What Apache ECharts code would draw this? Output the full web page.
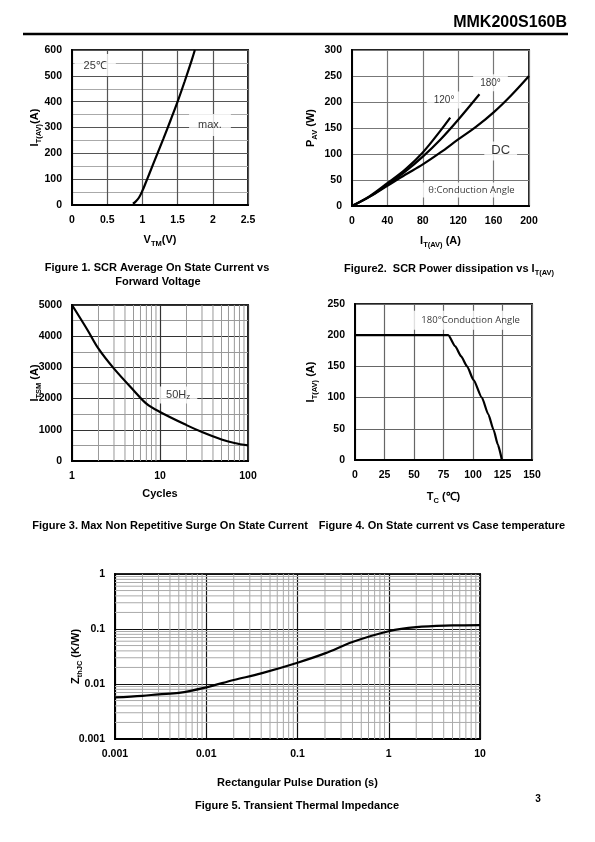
<!DOCTYPE html>
<html><head><meta charset="utf-8">
<script src="https://cdn.jsdelivr.net/npm/echarts@6/dist/echarts.min.js"></script>
<style>html,body{margin:0;padding:0;background:#fff}#c{width:595px;height:842px}</style>
</head><body><div id="c"></div>
<script>
const FONT = '"Liberation Sans", Arial, sans-serif';
const NOTEFONT = '"Open Sans", "Noto Sans", sans-serif';

// ---- Figure 1: I_T(AV) vs V_TM ----
const fig1X = [0.865, 0.9, 0.95, 1.0, 1.05, 1.1, 1.2, 1.3, 1.4, 1.5, 1.6, 1.7, 1.745];
const fig1Y = [5, 12, 28, 55, 88, 122, 190, 258, 328, 400, 478, 560, 600];
const fig1XTicks = ['0', '0.5', '1', '1.5', '2', '2.5'];
const fig1YTicks = ['0', '100', '200', '300', '400', '500', '600'];
const fig1Notes = [[0.33, 542, '25℃'], [1.96, 310, 'max.']];

// ---- Figure 2: P_AV vs I_T(AV) ----
const fig2X120 = [0, 20, 40, 60, 80, 100, 111];
const fig2Y120 = [0, 19, 44, 70, 103, 145, 170];
const fig2X180 = [0, 20, 40, 60, 80, 100, 120, 144];
const fig2Y180 = [0, 18, 41, 66, 95, 128, 166, 215];
const fig2XDC = [0, 20, 40, 60, 80, 100, 120, 140, 160, 180, 200];
const fig2YDC = [0, 18, 39, 60, 80, 103, 128, 152, 180, 213, 250];
const fig2XTicks = ['0', '40', '80', '120', '160', '200'];
const fig2YTicks = ['0', '50', '100', '150', '200', '250', '300'];
const fig2Notes = [[104, 204, '120°'], [156.5, 237, '180°'], [168, 106, 'DC']];
const fig2Box = [[135, 31, 'θ:Conduction Angle']];

// ---- Figure 3: I_TSM vs cycles ----
const fig3X = [1, 1.5, 2, 3, 5, 7, 10, 20, 30, 50, 70, 100];
const fig3Y = [5000, 4200, 3600, 2960, 2270, 1840, 1570, 1150, 930, 690, 578, 500];
const fig3XTicks = ['1', '10', '100'];
const fig3YTicks = ['0', '1000', '2000', '3000', '4000', '5000'];
const fig3Notes = [[16.1, 2115, '50H{s|z}']];

// ---- Figure 4: I_T(AV) vs Tc ----
const fig4X = [0, 25, 50, 79, 85, 90, 95, 100.5, 107.5, 113, 117.5, 121, 124.5];
const fig4Y = [200, 200, 200, 200, 182, 166, 150, 128, 100, 73, 48, 25, 0];
const fig4XTicks = ['0', '25', '50', '75', '100', '125', '150'];
const fig4YTicks = ['0', '50', '100', '150', '200', '250'];
const fig4Box = [[98, 224, '180°Conduction Angle']];

// ---- Figure 5: Zth vs pulse duration ----
const fig5X = [0.001, 0.002, 0.003, 0.005, 0.01, 0.02, 0.04, 0.1, 0.2, 0.4, 1, 2, 5, 10];
const fig5Y = [0.0057, 0.0061, 0.0065, 0.0069, 0.0087, 0.0118, 0.0156, 0.0244, 0.036, 0.058, 0.091, 0.108, 0.116, 0.118];
const fig5XTicks = ['0.001', '0.01', '0.1', '1', '10'];
const fig5YTicks = ['0.001', '0.01', '0.1', '1'];

const pairs = (xs, ys) => xs.map((x, i) => [x, ys[i]]);
const linFmt = (ticks, step, min) => v => { const i = Math.round((v - min) / step); return ticks[i] !== undefined ? ticks[i] : ''; };
const logFmt = (ticks, min) => v => { const i = Math.round(Math.log10(v / min)); return ticks[i] !== undefined ? ticks[i] : ''; };
function minorLogValues(minExp, maxExp) {
  const out = [];
  for (let e = minExp; e < maxExp; e++) for (let k = 2; k <= 9; k++) out.push(+(k * Math.pow(10, e)).toPrecision(3));
  return out;
}

const rich = {
  b: { fontSize: 11, fontWeight: 'bold', fontFamily: FONT, color: '#000' },
  s: { fontSize: 7.5, fontWeight: 'bold', fontFamily: FONT, color: '#000', verticalAlign: 'bottom' }
};
const nameStyle = { rich: rich, lineHeight: 16, fontSize: 11, fontWeight: 'bold', fontFamily: FONT, color: '#000' };
const axisLabel = (fmt) => ({ color: '#000', fontSize: 10.5, fontWeight: 'bold', fontFamily: FONT, margin: 10, formatter: fmt });
const axisLine = { show: true, onZero: false, lineStyle: { color: '#000', width: 2 } };
const split = (c, w) => ({ show: true, lineStyle: { color: c, width: w || 1 } });

const grids = [
  { left: 72, top: 50, width: 176, height: 155 },
  { left: 352, top: 50, width: 177, height: 156 },
  { left: 72, top: 305, width: 176, height: 156 },
  { left: 355, top: 304, width: 177, height: 156 },
  { left: 115, top: 574, width: 365, height: 165 }
].map(g => Object.assign({ show: true, borderColor: '#222', borderWidth: 2, containLabel: false }, g));

const common = { axisLine, axisTick: { show: false }, nameLocation: 'middle', nameMoveOverlap: false, nameTextStyle: nameStyle };
const xAxis = [
  Object.assign({ gridIndex: 0, type: 'value', min: 0, max: 2.5, interval: 0.5,
    axisLabel: axisLabel(linFmt(fig1XTicks, 0.5, 0)), splitLine: split('#555', 1.2),
    name: '{b|V}{s|TM}{b|(V)}', nameGap: 27 }, common),
  Object.assign({ gridIndex: 1, type: 'value', min: 0, max: 200, interval: 40,
    axisLabel: axisLabel(linFmt(fig2XTicks, 40, 0)), splitLine: split('#777', 1.2),
    name: '{b|I}{s|T(AV)}{b| (A)}', nameGap: 27 }, common),
  Object.assign({ gridIndex: 2, type: 'log', logBase: 10, min: 1, max: 100,
    axisLabel: axisLabel(logFmt(fig3XTicks, 1)), splitLine: split('#333', 1.2),
    name: '{b|Cycles}', nameGap: 25 }, common),
  Object.assign({ gridIndex: 3, type: 'value', min: 0, max: 150, interval: 25,
    axisLabel: axisLabel(linFmt(fig4XTicks, 25, 0)), splitLine: split('#666', 1.2),
    name: '{b|T}{s|C}{b| (℃)}', nameGap: 29 }, common),
  Object.assign({ gridIndex: 4, type: 'log', logBase: 10, min: 0.001, max: 10,
    axisLabel: axisLabel(logFmt(fig5XTicks, 0.001)), splitLine: split('#111', 1.2),
    name: '{b|Rectangular Pulse Duration (s)}', nameGap: 36 }, common)
];
const yAxis = [
  Object.assign({ gridIndex: 0, type: 'value', min: 0, max: 600, interval: 100,
    axisLabel: axisLabel(linFmt(fig1YTicks, 100, 0)), splitLine: split('#555', 1.2),
    minorTick: { show: false, splitNumber: 2 }, minorSplitLine: { show: true, lineStyle: { color: '#aaa', width: 1 } },
    name: '{b|I}{s|T(AV)}{b|(A)}', nameGap: 29.5, nameRotate: 90 }, common),
  Object.assign({ gridIndex: 1, type: 'value', min: 0, max: 300, interval: 50,
    axisLabel: axisLabel(linFmt(fig2YTicks, 50, 0)), splitLine: split('#777', 1.2),
    name: '{b|P}{s|AV}{b| (W)}', nameGap: 33, nameRotate: 90 }, common),
  Object.assign({ gridIndex: 2, type: 'value', min: 0, max: 5000, interval: 1000,
    axisLabel: axisLabel(linFmt(fig3YTicks, 1000, 0)), splitLine: split('#333', 1.2),
    minorTick: { show: false, splitNumber: 2 }, minorSplitLine: { show: true, lineStyle: { color: '#999', width: 1 } },
    name: '{b|I}{s|TSM}{b| (A)}', nameGap: 29, nameRotate: 90 }, common),
  Object.assign({ gridIndex: 3, type: 'value', min: 0, max: 250, interval: 50,
    axisLabel: axisLabel(linFmt(fig4YTicks, 50, 0)), splitLine: split('#666', 1.2),
    name: '{b|I}{s|T(AV)}{b| (A)}', nameGap: 36, nameRotate: 90 }, common),
  Object.assign({ gridIndex: 4, type: 'log', logBase: 10, min: 0.001, max: 1,
    axisLabel: axisLabel(logFmt(fig5YTicks, 0.001)), splitLine: split('#111', 1.2),
    name: '{b|Z}{s|thJC}{b| (K/W)}', nameGap: 31, nameRotate: 90 }, common)
];

const curve = (xi, data, extra) => Object.assign({
  type: 'line', xAxisIndex: xi, yAxisIndex: xi, data, smooth: 0.35, showSymbol: false, symbol: 'none',
  lineStyle: { color: '#000', width: 2.2 }, z: 5, silent: true, animation: false
}, extra || {});

const noteSeries = (xi, notes, lbl) => ({
  type: 'scatter', xAxisIndex: xi, yAxisIndex: xi, data: notes, symbolSize: 1,
  itemStyle: { color: 'rgba(0,0,0,0)' }, z: 4, silent: true, animation: false,
  label: Object.assign({ show: true, position: 'inside', formatter: p => p.data[2], color: '#000',
    backgroundColor: '#fff', fontFamily: FONT, fontSize: 11, rich: { s: { fontSize: 8, fontFamily: FONT, verticalAlign: 'bottom', color: '#000' } } }, lbl)
});

// minor grid lines for log axes, placed through the axes' own scales
const minorGrid = (xi, xs, ys, xRef, yRef, color) => ({
  type: 'custom', xAxisIndex: xi, yAxisIndex: xi, silent: true, z: 1, animation: false,
  data: xs.map(v => [v, yRef, 0]).concat(ys.map(v => [xRef, v, 1])),
  encode: { x: 0, y: 1 },
  renderItem: (params, api) => {
    const cs = params.coordSys;
    const p = api.coord([api.value(0), api.value(1)]);
    const vert = api.value(2) === 0;
    return { type: 'line', silent: true,
      shape: vert ? { x1: p[0], y1: cs.y, x2: p[0], y2: cs.y + cs.height } : { x1: cs.x, y1: p[1], x2: cs.x + cs.width, y2: p[1] },
      style: { stroke: color, lineWidth: 1 } };
  }
});

const series = [
  curve(0, pairs(fig1X, fig1Y)),
  noteSeries(0, fig1Notes, { padding: [6, 9, 5, 9] }),
  curve(1, pairs(fig2X120, fig2Y120)),
  curve(1, pairs(fig2X180, fig2Y180)),
  curve(1, pairs(fig2XDC, fig2YDC)),
  noteSeries(1, fig2Notes.slice(0, 2), { padding: [4, 7, 3, 7], fontSize: 10 }),
  noteSeries(1, fig2Notes.slice(2), { padding: [3, 7, 3, 7], fontSize: 13 }),
  noteSeries(1, fig2Box, { padding: [3, 9, 2, 9], fontSize: 9.5, fontFamily: NOTEFONT }),
  minorGrid(2, minorLogValues(0, 2), [], 10, 1000, '#999'),
  curve(2, pairs(fig3X, fig3Y)),
  noteSeries(2, fig3Notes, { padding: [3, 7, 3, 7], fontSize: 11 }),
  curve(3, pairs(fig4X, fig4Y), { smooth: 0.2, smoothMonotone: 'x' }),
  noteSeries(3, fig4Box, { padding: [5, 8, 4, 8], fontSize: 9.5, fontFamily: NOTEFONT }),
  minorGrid(4, minorLogValues(-3, 1), minorLogValues(-3, 0), 0.01, 0.01, '#aaa'),
  curve(4, pairs(fig5X, fig5Y))
];

const capRich = {
  b: { fontSize: 11, fontWeight: 'bold', fontFamily: FONT, color: '#000' },
  s: { fontSize: 7.5, fontWeight: 'bold', fontFamily: FONT, color: '#000', verticalAlign: 'bottom' }
};
const cap = (x, y, text) => ({ type: 'text', x, y, silent: true,
  style: { text, rich: capRich, align: 'center', verticalAlign: 'middle', lineHeight: 16 } });

const graphic = [
  { type: 'text', x: 567, y: 23, silent: true, style: { text: 'MMK200S160B', fill: '#000', font: 'bold 16px ' + FONT, align: 'right', verticalAlign: 'middle' } },
  { type: 'line', silent: true, shape: { x1: 23, y1: 34, x2: 568, y2: 34 }, style: { stroke: '#000', lineWidth: 2.5 } },
  cap(157, 268, '{b|Figure 1. SCR Average On State Current vs}'),
  cap(158, 282, '{b|Forward Voltage}'),
  cap(449, 269, '{b|Figure2.  SCR Power dissipation vs I}{s|T(AV)}'),
  cap(170, 526, '{b|Figure 3. Max Non Repetitive Surge On State Current}'),
  cap(442, 526, '{b|Figure 4. On State current vs Case temperature}'),
  cap(297, 806, '{b|Figure 5. Transient Thermal Impedance}'),
  { type: 'text', x: 538, y: 799, silent: true, style: { text: '3', fill: '#000', font: 'bold 10px ' + FONT, align: 'center', verticalAlign: 'middle' } }
];

const chart = echarts.init(document.getElementById('c'), null, { renderer: 'canvas' });
chart.setOption({ animation: false, backgroundColor: '#fff', grid: grids, xAxis, yAxis, series, graphic });
</script></body></html>
